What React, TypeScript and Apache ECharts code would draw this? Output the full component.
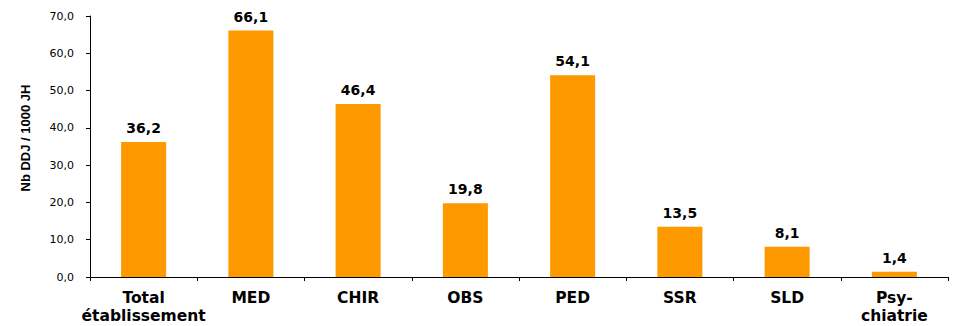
import React, { useEffect, useRef } from "react";
import * as echarts from "echarts";

const categories = ["Total\nétablissement", "MED", "CHIR", "OBS", "PED", "SSR", "SLD", "Psy-\nchiatrie"];
const values = [36.2, 66.1, 46.4, 19.8, 54.1, 13.5, 8.1, 1.4];
const yAxisName = "Nb DDJ / 1000 JH";

const fmt = (v: number) => v.toFixed(1).replace(".", ",");

export default function App() {
  const ref = useRef<HTMLDivElement>(null);
  useEffect(() => {
    if (!ref.current) return;
    document.body.style.margin = "0";
    const chart = echarts.init(ref.current, null, { renderer: "svg" });
    chart.setOption({
      animation: false,
      grid: { left: 90, right: 9, top: 16, bottom: 49, containLabel: false, outerBoundsMode: "none" },
      xAxis: {
        type: "category",
        data: categories,
        axisLine: { lineStyle: { color: "#000", width: 1 } },
        axisTick: { show: true, alignWithLabel: false, length: 4, lineStyle: { color: "#000" } },
        axisLabel: {
          color: "#000",
          fontFamily: "DejaVu Sans, sans-serif",
          fontWeight: "bold",
          fontSize: 15.5,
          lineHeight: 18,
          margin: 12,
          interval: 0,
        },
      },
      yAxis: {
        type: "value",
        min: 0,
        max: 70,
        interval: 10,
        name: yAxisName,
        nameLocation: "middle",
        nameGap: 58,
        nameRotate: 90,
        nameTextStyle: {
          color: "#000",
          fontFamily: "Liberation Sans, Arial, sans-serif",
          fontWeight: "bold",
          fontSize: 13,
          padding: [0, 0, 0, 17],
        },
        axisLine: { show: true, lineStyle: { color: "#000", width: 1 } },
        axisTick: { show: true, length: 4, lineStyle: { color: "#000" } },
        splitLine: { show: false },
        axisLabel: {
          color: "#000",
          fontFamily: "DejaVu Sans, sans-serif",
          fontSize: 11,
          margin: 16,
          formatter: (v: number) => fmt(v),
        },
      },
      series: [
        {
          type: "bar",
          data: values,
          barWidth: "42%",
          itemStyle: { color: "#FF9900" },
          label: {
            show: true,
            position: "top",
            distance: 7,
            color: "#000",
            fontFamily: "DejaVu Sans, sans-serif",
            fontWeight: "bold",
            fontSize: 14,
            formatter: (p: any) => fmt(p.value),
          },
        },
      ],
    });
    return () => chart.dispose();
  }, []);
  return <div ref={ref} style={{ width: 957, height: 326 }} />;
}
